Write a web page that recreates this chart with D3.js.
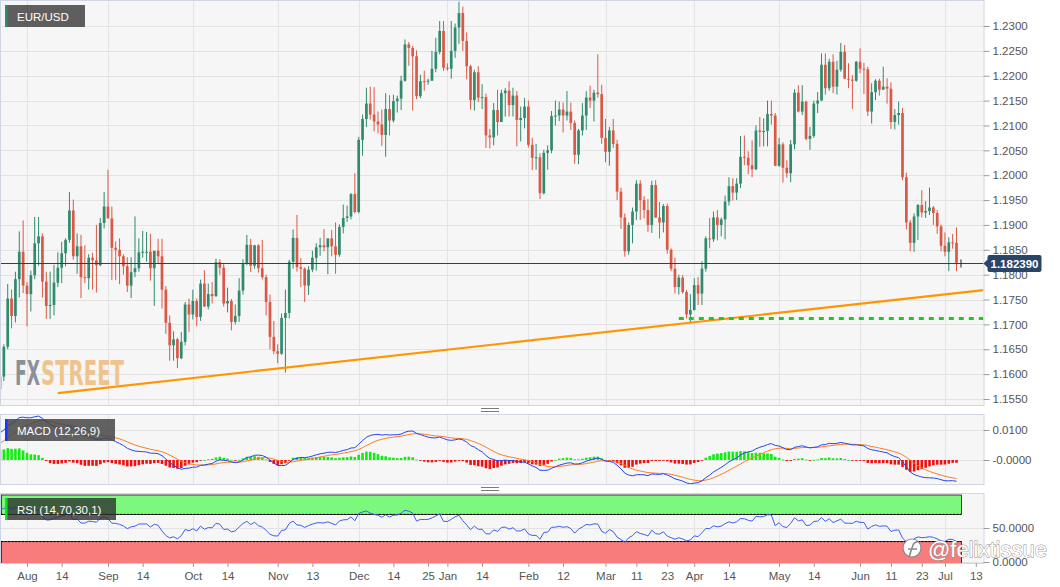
<!DOCTYPE html>
<html>
<head>
<meta charset="utf-8">
<script src="https://cdn.jsdelivr.net/npm/d3@7"></script>
<style>
  body { margin: 0; background: #fff; }
  svg { display: block; font-family: "Liberation Sans", Arial, sans-serif; }
</style>
</head>
<body>
<svg id="chart" width="1060" height="587"></svg>
<script>
// daily EUR/USD candles, one row per weekday: [open, high, low, close]
const jul20 = [
  [1.1570,1.1626,1.1552,1.1595],[1.1595,1.1660,1.1586,1.1655],[1.1655,1.1781,1.1650,1.1752],
  [1.1752,1.1770,1.1692,1.1717],[1.1717,1.1806,1.1704,1.1791],[1.1791,1.1887,1.1754,1.1846],
  [1.1846,1.1909,1.1763,1.1778]];
const aug20 = [
  [1.1778,1.1785,1.1696,1.1761],[1.1761,1.1808,1.1726,1.1799],[1.1799,1.1916,1.1791,1.1863],
  [1.1863,1.1916,1.1818,1.1877],[1.1877,1.1883,1.1754,1.1786],[1.1786,1.1806,1.1711,1.1737],
  [1.1737,1.1806,1.1711,1.1739],[1.1739,1.1820,1.1718,1.1784],[1.1784,1.1845,1.1775,1.1814],
  [1.1814,1.1866,1.1783,1.1843],[1.1843,1.1873,1.1817,1.1870],[1.1870,1.1966,1.1864,1.1929],
  [1.1929,1.1951,1.1830,1.1837],[1.1837,1.1883,1.1802,1.1857],[1.1857,1.1880,1.1753,1.1795],
  [1.1795,1.1859,1.1783,1.1793],[1.1793,1.1841,1.1770,1.1834],[1.1834,1.1844,1.1770,1.1829],
  [1.1829,1.1900,1.1764,1.1819],[1.1819,1.1914,1.1817,1.1904],[1.1904,1.1966,1.1893,1.1937]];
const sep20 = [
  [1.1937,1.2011,1.1917,1.1913],[1.1913,1.1937,1.1789,1.1854],[1.1854,1.1867,1.1789,1.1850],
  [1.1850,1.1873,1.1781,1.1837],[1.1837,1.1841,1.1800,1.1817],[1.1817,1.1835,1.1765,1.1778],
  [1.1778,1.1835,1.1753,1.1805],[1.1805,1.1917,1.1795,1.1813],[1.1813,1.1873,1.1806,1.1845],
  [1.1845,1.1888,1.1834,1.1846],[1.1846,1.1886,1.1826,1.1846],[1.1846,1.1882,1.1788,1.1813],
  [1.1813,1.1838,1.1737,1.1848],[1.1848,1.1872,1.1823,1.1837],[1.1837,1.1872,1.1732,1.1770],
  [1.1770,1.1777,1.1681,1.1703],[1.1703,1.1718,1.1627,1.1658],[1.1658,1.1686,1.1627,1.1670],
  [1.1670,1.1673,1.1612,1.1632],[1.1632,1.1685,1.1630,1.1665],[1.1665,1.1745,1.1658,1.1740],
  [1.1740,1.1752,1.1685,1.1720]];
const oct20 = [
  [1.1720,1.1770,1.1710,1.1747],[1.1747,1.1752,1.1696,1.1715],[1.1715,1.1790,1.1707,1.1782],
  [1.1782,1.1809,1.1735,1.1736],[1.1736,1.1782,1.1730,1.1761],[1.1761,1.1785,1.1742,1.1757],
  [1.1757,1.1832,1.1755,1.1825],[1.1825,1.1831,1.1800,1.1814],[1.1814,1.1821,1.1736,1.1742],
  [1.1742,1.1774,1.1724,1.1747],[1.1747,1.1751,1.1688,1.1705],[1.1705,1.1740,1.1700,1.1717],
  [1.1717,1.1793,1.1705,1.1768],[1.1768,1.1831,1.1760,1.1822],[1.1822,1.1880,1.1819,1.1860],
  [1.1860,1.1872,1.1805,1.1818],[1.1818,1.1860,1.1812,1.1859],[1.1859,1.1861,1.1804,1.1813],
  [1.1813,1.1870,1.1790,1.1795],[1.1795,1.1800,1.1718,1.1745],[1.1745,1.1760,1.1650,1.1675],
  [1.1675,1.1707,1.1640,1.1646]];
const nov20 = [
  [1.1646,1.1660,1.1622,1.1641],[1.1641,1.1722,1.1639,1.1713],[1.1713,1.1770,1.1603,1.1723],
  [1.1723,1.1830,1.1712,1.1826],[1.1826,1.1891,1.1812,1.1874],[1.1874,1.1920,1.1806,1.1815],
  [1.1815,1.1833,1.1775,1.1812],[1.1812,1.1815,1.1745,1.1778],[1.1778,1.1817,1.1759,1.1810],
  [1.1810,1.1848,1.1805,1.1834],[1.1834,1.1863,1.1808,1.1855],[1.1855,1.1874,1.1838,1.1859],
  [1.1859,1.1892,1.1847,1.1855],[1.1855,1.1870,1.1801,1.1873],[1.1873,1.1890,1.1837,1.1857],
  [1.1857,1.1905,1.1802,1.1840],[1.1840,1.1901,1.1836,1.1896],[1.1896,1.1941,1.1883,1.1914],
  [1.1914,1.1939,1.1906,1.1917],[1.1917,1.1964,1.1911,1.1962],[1.1962,1.2004,1.1923,1.1926]];
const dec20 = [
  [1.1926,1.2077,1.1923,1.2071],[1.2071,1.2122,1.2039,1.2113],[1.2113,1.2176,1.2097,1.2144],
  [1.2144,1.2178,1.2112,1.2122],[1.2122,1.2177,1.2088,1.2108],[1.2108,1.2128,1.2084,1.2102],
  [1.2102,1.2132,1.2059,1.2081],[1.2081,1.2165,1.2037,1.2133],[1.2133,1.2161,1.2080,1.2110],
  [1.2110,1.2162,1.2106,1.2149],[1.2149,1.2160,1.2126,1.2154],[1.2154,1.2200,1.2131,1.2190],
  [1.2190,1.2273,1.2188,1.2263],[1.2263,1.2268,1.2220,1.2256],[1.2256,1.2260,1.2130,1.2239],
  [1.2239,1.2251,1.2153,1.2159],[1.2159,1.2202,1.2155,1.2189],[1.2189,1.2210,1.2170,1.2188],
  [1.2188,1.2194,1.2182,1.2190],[1.2190,1.2250,1.2190,1.2214],[1.2214,1.2276,1.2207,1.2248],
  [1.2248,1.2310,1.2243,1.2290],[1.2290,1.2310,1.2210,1.2216]];
const jan21 = [
  [1.2216,1.2225,1.2210,1.2214],[1.2214,1.2310,1.2194,1.2250],[1.2250,1.2305,1.2236,1.2297],
  [1.2297,1.2349,1.2264,1.2326],[1.2326,1.2339,1.2250,1.2270],[1.2270,1.2287,1.2193,1.2219],
  [1.2219,1.2222,1.2132,1.2151],[1.2151,1.2212,1.2130,1.2207],[1.2207,1.2219,1.2147,1.2156],
  [1.2156,1.2183,1.2133,1.2157],[1.2157,1.2164,1.2055,1.2080],[1.2080,1.2093,1.2054,1.2076],
  [1.2076,1.2145,1.2060,1.2131],[1.2131,1.2172,1.2080,1.2107],[1.2107,1.2172,1.2107,1.2165],
  [1.2165,1.2175,1.2118,1.2170],[1.2170,1.2189,1.2118,1.2141],[1.2141,1.2176,1.2118,1.2160],
  [1.2160,1.2169,1.2058,1.2111],[1.2111,1.2138,1.2068,1.2115],[1.2115,1.2155,1.2094,1.2138]];
const feb21 = [
  [1.2138,1.2150,1.2056,1.2061],[1.2061,1.2075,1.2010,1.2035],[1.2035,1.2063,1.2011,1.2036],
  [1.2036,1.2044,1.1952,1.1964],[1.1964,1.2051,1.1961,1.2045],[1.2045,1.2060,1.2011,1.2050],
  [1.2050,1.2129,1.2044,1.2119],[1.2119,1.2150,1.2100,1.2120],[1.2120,1.2148,1.2109,1.2132],
  [1.2132,1.2146,1.2086,1.2120],[1.2120,1.2169,1.2110,1.2128],[1.2128,1.2146,1.2091,1.2105],
  [1.2105,1.2110,1.2023,1.2041],[1.2041,1.2093,1.2022,1.2090],[1.2090,1.2145,1.2080,1.2120],
  [1.2120,1.2169,1.2091,1.2156],[1.2156,1.2180,1.2135,1.2150],[1.2150,1.2172,1.2108,1.2166],
  [1.2166,1.2243,1.2156,1.2163],[1.2163,1.2182,1.2063,1.2075]];
const mar21 = [
  [1.2075,1.2113,1.2026,1.2047],[1.2047,1.2097,1.2019,1.2090],[1.2090,1.2113,1.2055,1.2063],
  [1.2063,1.2071,1.1950,1.1967],[1.1967,1.1975,1.1892,1.1915],[1.1915,1.1923,1.1836,1.1847],
  [1.1847,1.1905,1.1840,1.1900],[1.1900,1.1935,1.1863,1.1927],[1.1927,1.1990,1.1910,1.1983],
  [1.1983,1.1990,1.1910,1.1950],[1.1950,1.1958,1.1913,1.1930],[1.1930,1.1952,1.1886,1.1900],
  [1.1900,1.1989,1.1884,1.1980],[1.1980,1.1990,1.1914,1.1915],[1.1915,1.1946,1.1873,1.1905],
  [1.1905,1.1942,1.1885,1.1938],[1.1938,1.1943,1.1842,1.1850],[1.1850,1.1853,1.1807,1.1812],
  [1.1812,1.1834,1.1762,1.1775],[1.1775,1.1800,1.1760,1.1794],[1.1794,1.1799,1.1762,1.1765],
  [1.1765,1.1769,1.1712,1.1720],[1.1720,1.1761,1.1704,1.1729]];
const apr21 = [
  [1.1729,1.1793,1.1728,1.1779],[1.1779,1.1795,1.1739,1.1762],[1.1762,1.1827,1.1739,1.1812],
  [1.1812,1.1877,1.1806,1.1873],[1.1873,1.1914,1.1853,1.1871],[1.1871,1.1927,1.1866,1.1915],
  [1.1915,1.1930,1.1869,1.1900],[1.1900,1.1915,1.1877,1.1911],[1.1911,1.1959,1.1871,1.1947],
  [1.1947,1.1996,1.1939,1.1978],[1.1978,1.1994,1.1949,1.1965],[1.1965,1.1994,1.1950,1.1983],
  [1.1983,1.2079,1.1974,1.2037],[1.2037,1.2080,1.2020,1.2035],[1.2035,1.2048,1.2002,1.2020],
  [1.2020,1.2070,1.1996,1.2012],[1.2012,1.2100,1.2010,1.2090],[1.2090,1.2117,1.2057,1.2087],
  [1.2087,1.2114,1.2058,1.2089],[1.2089,1.2150,1.2058,1.2123],[1.2123,1.2150,1.2102,1.2120],
  [1.2120,1.2125,1.2018,1.2019]];
const may21 = [
  [1.2019,1.2075,1.2017,1.2062],[1.2062,1.2066,1.1985,1.2015],[1.2015,1.2030,1.1995,1.2004],
  [1.2004,1.2071,1.1986,1.2062],[1.2062,1.2173,1.2052,1.2166],[1.2166,1.2181,1.2126,1.2128],
  [1.2128,1.2181,1.2121,1.2148],[1.2148,1.2150,1.2070,1.2073],[1.2073,1.2097,1.2051,1.2079],
  [1.2079,1.2150,1.2075,1.2144],[1.2144,1.2167,1.2125,1.2150],[1.2150,1.2245,1.2150,1.2222],
  [1.2222,1.2245,1.2162,1.2175],[1.2175,1.2234,1.2170,1.2228],[1.2228,1.2243,1.2165,1.2178],
  [1.2178,1.2230,1.2162,1.2212],[1.2212,1.2266,1.2208,1.2248],[1.2248,1.2262,1.2193,1.2194],
  [1.2194,1.2225,1.2175,1.2192],[1.2192,1.2201,1.2133,1.2190],[1.2190,1.2230,1.2188,1.2228]];
const jun21 = [
  [1.2228,1.2255,1.2205,1.2214],[1.2214,1.2226,1.2163,1.2213],[1.2213,1.2218,1.2119,1.2128],
  [1.2128,1.2185,1.2104,1.2167],[1.2167,1.2193,1.2151,1.2190],[1.2190,1.2194,1.2160,1.2172],
  [1.2172,1.2218,1.2172,1.2178],[1.2178,1.2195,1.2144,1.2174],[1.2174,1.2187,1.2093,1.2107],
  [1.2107,1.2133,1.2092,1.2121],[1.2121,1.2148,1.2102,1.2125],[1.2125,1.2135,1.1990,1.1996],
  [1.1996,1.2005,1.1891,1.1905],[1.1905,1.1910,1.1847,1.1864],[1.1864,1.1923,1.1846,1.1917],
  [1.1917,1.1942,1.1870,1.1940],[1.1940,1.1970,1.1915,1.1925],[1.1925,1.1948,1.1914,1.1928],
  [1.1928,1.1975,1.1920,1.1935],[1.1935,1.1938,1.1900,1.1924],[1.1924,1.1930,1.1882,1.1897],
  [1.1897,1.1901,1.1847,1.1858]];
const jul21 = [
  [1.1858,1.1885,1.1837,1.1846],[1.1846,1.1875,1.1807,1.1865],[1.1865,1.1882,1.1852,1.1864],
  [1.1864,1.1895,1.1807,1.18239]];

const firstDay = '2020-07-23';
const priceTicks = [1.155,1.16,1.165,1.17,1.175,1.18,1.185,1.19,1.195,1.2,1.205,1.21,1.215,1.22,1.225,1.23];
const tickDates = ['2020-08-03','2020-08-14','2020-09-01','2020-09-14','2020-10-01','2020-10-14','2020-11-02',
  '2020-11-13','2020-12-01','2020-12-14','2020-12-25','2021-01-01','2021-01-14','2021-02-01','2021-02-12',
  '2021-03-01','2021-03-11','2021-03-23','2021-04-01','2021-04-14','2021-05-03','2021-05-14','2021-06-01',
  '2021-06-11','2021-06-23','2021-07-01','2021-07-13'];
const tickLabels = ['Aug','14','Sep','14','Oct','14','Nov','13','Dec','14','25','Jan','14','Feb','12',
  'Mar','11','23','Apr','14','May','14','Jun','11','23','Jul','13'];
const macdTicks = [0.01, 0], macdTickLabels = ['0.0100', '-0.0000'];
const rsiTicks = [50, 0], rsiTickLabels = ['50.0000', '0.0000'];

// drawn studies
const trendLine = [['2020-08-13', 1.1562], ['2021-07-15', 1.1769]];
const supportLine = [['2021-03-26', 1.1712], ['2021-07-15', 1.1712]];

// indicator state on the day before the first candle
const macdSeed = { fast: 1.1426, slow: 1.1343, signal: 0.0047 };
const rsiSeed = { gain: 0.0034, loss: 0.0011 };

const candles = [jul20, aug20, sep20, oct20, nov20, dec20, jan21, feb21, mar21, apr21, may21, jun21, jul21].flat();

const parse = d3.timeParse('%Y-%m-%d'), fmt = d3.timeFormat('%Y-%m-%d');
const days = d3.timeDay.range(parse(firstDay), parse('2021-07-20')).filter(d => d.getDay() % 6 !== 0);
const dayIndex = new Map(days.map((d, i) => [fmt(d), i]));

// ---- indicators
let fast = macdSeed.fast, slow = macdSeed.slow, sig = macdSeed.signal;
let ag = rsiSeed.gain, al = rsiSeed.loss, prev = candles[0][0];
const macd = [], signal = [], hist = [], rsi = [];
candles.forEach(c => {
  const close = c[3];
  fast += (close - fast) * 2 / 13;
  slow += (close - slow) * 2 / 27;
  const m = fast - slow;
  sig += (m - sig) * 2 / 10;
  macd.push(m); signal.push(sig); hist.push(m - sig);
  const ch = close - prev;
  ag = (ag * 13 + Math.max(ch, 0)) / 14;
  al = (al * 13 + Math.max(-ch, 0)) / 14;
  rsi.push(100 - 100 / (1 + ag / al));
  prev = close;
});

// ---- layout
const svg = d3.select('#chart');
const left = 1, right = 983.5;
const main = { top: 1, bottom: 405 }, macdP = { top: 415, bottom: 484 }, rsiP = { top: 494, bottom: 563 };

const x = d3.scaleLinear().domain([0, 255]).range([0, 983.5]);
const y = d3.scaleLinear().domain([1.155, 1.23]).range([399, 26]);
const yM = d3.scaleLinear().domain([0, 0.01]).range([460, 430]);
const yR = d3.scaleLinear().domain([0, 100]).range([562, 494]);

const tickIdx = tickDates.map(d => dayIndex.get(d));
const monthIdx = tickIdx.filter((d, i) => isNaN(+tickLabels[i]));

const defs = svg.append('defs');
[['cMain', main], ['cMacd', macdP], ['cRsi', rsiP]].forEach(([id, p]) => {
  defs.append('clipPath').attr('id', id).append('rect')
    .attr('x', left).attr('y', p.top).attr('width', right - left).attr('height', p.bottom - p.top);
});

function panel(p, hTicks, yScale) {
  const g = svg.append('g');
  g.append('rect').attr('x', left).attr('y', p.top).attr('width', right - left).attr('height', p.bottom - p.top)
    .attr('fill', '#f6f6f6');
  g.selectAll('line.h').data(hTicks).join('line').attr('class', 'h')
    .attr('x1', left).attr('x2', right).attr('y1', d => Math.round(yScale(d)) + 0.5).attr('y2', d => Math.round(yScale(d)) + 0.5)
    .attr('stroke', '#e3e3e3');
  g.selectAll('line.v').data(monthIdx).join('line').attr('class', 'v')
    .attr('x1', d => Math.round(x(d)) + 0.5).attr('x2', d => Math.round(x(d)) + 0.5).attr('y1', p.top).attr('y2', p.bottom)
    .attr('stroke', '#e3e3e3');
  return g;
}
function frame(p) {
  svg.append('rect').attr('x', left - 0.5).attr('y', p.top - 0.5).attr('width', right - left + 1).attr('height', p.bottom - p.top + 1)
    .attr('fill', 'none').attr('stroke', '#cfd5e4');
}

panel(main, priceTicks, y);
panel(macdP, macdTicks, yM);
panel(rsiP, rsiTicks, yR);

// ---- watermark (condensed letters stretched upward)
const wmFont = '"DejaVu Sans Condensed", "DejaVu Sans", sans-serif';
const wm = svg.append('g').attr('transform', 'translate(0,385) scale(1,1.6)');
wm.append('text').attr('x', 15).attr('y', 0).attr('font-family', wmFont).attr('font-weight', 'bold')
  .attr('font-size', 20.5).attr('textLength', 25).attr('lengthAdjust', 'spacingAndGlyphs')
  .attr('fill', '#8e9099').text('FX');
wm.append('text').attr('x', 41).attr('y', 0).attr('font-family', wmFont).attr('font-weight', 'bold')
  .attr('font-size', 20.5).attr('textLength', 83).attr('lengthAdjust', 'spacingAndGlyphs')
  .attr('fill', '#f1c38c').text('STREET');

// ---- candles
const gc = svg.append('g').attr('clip-path', 'url(#cMain)');
const up = '#2f8a6e', down = '#da5846';
const col = d => d[3] >= d[0] ? up : down;
gc.selectAll('line.wick').data(candles).join('line').attr('class', 'wick')
  .attr('x1', (d, i) => x(i)).attr('x2', (d, i) => x(i))
  .attr('y1', d => y(d[1])).attr('y2', d => y(d[2]))
  .attr('stroke', col).attr('stroke-width', 1);
gc.selectAll('rect.body').data(candles).join('rect').attr('class', 'body')
  .attr('x', (d, i) => x(i) - 1.35).attr('width', 2.7)
  .attr('y', d => y(Math.max(d[0], d[3])))
  .attr('height', d => Math.max(1, Math.abs(y(d[0]) - y(d[3]))))
  .attr('fill', col);

// trend and support lines
const pt = d => [x(dayIndex.get(d[0])), y(d[1])];
gc.append('line')
  .attr('x1', pt(trendLine[0])[0]).attr('y1', pt(trendLine[0])[1])
  .attr('x2', pt(trendLine[1])[0]).attr('y2', pt(trendLine[1])[1])
  .attr('stroke', '#ff9500').attr('stroke-width', 2.2);
gc.append('line')
  .attr('x1', pt(supportLine[0])[0]).attr('y1', pt(supportLine[0])[1])
  .attr('x2', pt(supportLine[1])[0]).attr('y2', pt(supportLine[1])[1])
  .attr('stroke', '#1fc81f').attr('stroke-width', 3).attr('stroke-dasharray', '5,5');

// last price line
const last = candles[candles.length - 1][3];
const yl = Math.round(y(last)) + 0.5;
svg.append('line').attr('x1', left).attr('x2', right).attr('y1', yl).attr('y2', yl)
  .attr('stroke', '#2e3f5b').attr('stroke-width', 1);
svg.append('line').attr('x1', x(candles.length - 1) + 4.5).attr('x2', x(candles.length - 1) + 4.5)
  .attr('y1', yl - 4).attr('y2', yl + 4).attr('stroke', '#222');

frame(main);

// ---- MACD
const gm = svg.append('g').attr('clip-path', 'url(#cMacd)');
gm.selectAll('rect').data(hist).join('rect')
  .attr('x', (d, i) => x(i) - 1.3).attr('width', 2.6)
  .attr('y', d => Math.min(yM(d), yM(0))).attr('height', d => Math.max(0.8, Math.abs(yM(d) - yM(0))))
  .attr('fill', d => d >= 0 ? '#10ee10' : '#f01010');
gm.append('path').datum(signal).attr('fill', 'none').attr('stroke', '#ff7b22').attr('stroke-width', 1)
  .attr('d', d3.line().x((d, i) => x(i)).y(d => yM(d)));
gm.append('path').datum(macd).attr('fill', 'none').attr('stroke', '#2546f0').attr('stroke-width', 1)
  .attr('d', d3.line().x((d, i) => x(i)).y(d => yM(d)));
frame(macdP);

// ---- RSI
const gr = svg.append('g').attr('clip-path', 'url(#cRsi)');
const bandR = x(candles.length - 1) + 4.5;
gr.append('rect').attr('x', left + 0.5).attr('y', yR(100) + 1).attr('width', bandR - left).attr('height', yR(70) - yR(100) - 1)
  .attr('fill', '#7cf87c').attr('stroke', '#1a1a1a').attr('stroke-width', 0.8);
gr.append('rect').attr('x', left + 0.5).attr('y', yR(30)).attr('width', bandR - left).attr('height', yR(0) - yR(30) + 2)
  .attr('fill', '#f87c7c').attr('stroke', '#1a1a1a').attr('stroke-width', 0.8);
[70, 30].forEach(v => gr.append('line').attr('x1', left).attr('x2', bandR).attr('y1', yR(v)).attr('y2', yR(v))
  .attr('stroke', '#000').attr('stroke-dasharray', '2,1.5'));
gr.append('path').datum(rsi).attr('fill', 'none').attr('stroke', '#3a5ff0').attr('stroke-width', 1)
  .attr('d', d3.line().x((d, i) => x(i)).y(d => yR(d)));
frame(rsiP);

// ---- panel grips
[410, 489].forEach(yy => [-1.5, 1.5].forEach(o => svg.append('line')
  .attr('x1', 481).attr('x2', 499).attr('y1', yy + o).attr('y2', yy + o).attr('stroke', '#7a7a7a')));

// ---- axes
function styleAxis(g) {
  g.select('.domain').remove();
  g.selectAll('.tick line').attr('stroke', '#9a9a9a');
  g.selectAll('.tick text').attr('fill', '#555').attr('font-size', 11.5)
    .attr('font-family', '"Liberation Sans", Arial, sans-serif');
}
svg.append('g').attr('transform', `translate(${right},0)`)
  .call(d3.axisRight(y).tickValues(priceTicks).tickFormat(d3.format('.4f')).tickSize(6).tickPadding(3))
  .call(styleAxis);
svg.append('g').attr('transform', `translate(${right},0)`)
  .call(d3.axisRight(yM).tickValues(macdTicks).tickFormat((d, i) => macdTickLabels[i]).tickSize(6).tickPadding(3))
  .call(styleAxis);
svg.append('g').attr('transform', `translate(${right},0)`)
  .call(d3.axisRight(yR).tickValues(rsiTicks).tickFormat((d, i) => rsiTickLabels[i]).tickSize(6).tickPadding(3))
  .call(styleAxis);
svg.append('g').attr('transform', `translate(0,${rsiP.bottom})`)
  .call(d3.axisBottom(x).tickValues(tickIdx).tickFormat((d, i) => tickLabels[i]).tickSize(4).tickPadding(5))
  .call(styleAxis);

// ---- last price tag
const tag = svg.append('g').attr('transform', `translate(${right},${yl})`);
tag.append('path').attr('d', 'M0,0 L4,-4 L4,-6.5 Q4,-8.5 6,-8.5 L56,-8.5 Q58,-8.5 58,-6.5 L58,6.5 Q58,8.5 56,8.5 L6,8.5 Q4,8.5 4,6.5 L4,4 Z')
  .attr('fill', '#2b4569');
tag.append('text').attr('x', 31).attr('y', 4).attr('text-anchor', 'middle').attr('fill', '#fff')
  .attr('font-size', 11.5).attr('font-weight', 'bold').text(d3.format('.6f')(last));

// ---- panel titles
function title(yy, w, stripe, label, fill) {
  svg.append('rect').attr('x', 5).attr('y', yy).attr('width', w).attr('height', 22).attr('fill', fill);
  svg.append('rect').attr('x', 5).attr('y', yy).attr('width', 2.5).attr('height', 22).attr('fill', stripe);
  svg.append('text').attr('x', 17).attr('y', yy + 15.5).attr('fill', '#fff').attr('font-size', 11.5).text(label);
}
title(5, 80, '#2f8a6e', 'EUR/USD', 'rgba(80,80,80,0.92)');
title(419, 110, '#1538ff', 'MACD (12,26,9)', 'rgba(70,70,70,0.85)');
title(498, 111, '#18e018', 'RSI (14,70,30,1)', 'rgba(45,45,45,0.78)');

// ---- author mark
const am = svg.append('g');
am.append('circle').attr('cx', 912).attr('cy', 548).attr('r', 9).attr('fill', '#fff').attr('stroke', '#8a8a8a').attr('stroke-width', 1.2);
am.append('path').attr('d', 'M909,557 L913,545 Q915,541 919,542 M908,549 L917,549').attr('fill', 'none')
  .attr('stroke', '#8a8a8a').attr('stroke-width', 1.6);
am.append('text').attr('x', 928).attr('y', 557).attr('font-size', 22).attr('fill', '#fff')
  .attr('stroke', '#8a8a8a').attr('stroke-width', 0.9).attr('paint-order', 'stroke').text('@felixtissue');
</script>
</body>
</html>
